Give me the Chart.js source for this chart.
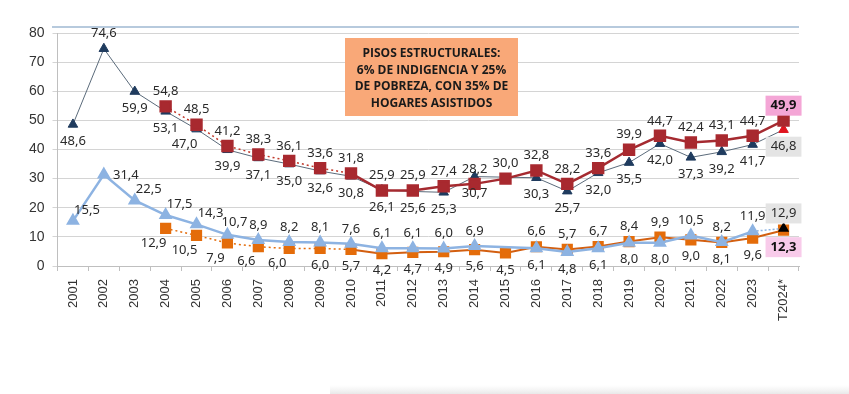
<!DOCTYPE html>
<html>
<head>
<meta charset="utf-8">
<script src="https://cdn.jsdelivr.net/npm/chart.js@4/dist/chart.umd.min.js"></script>
<style>
  html, body { margin: 0; padding: 0; background: #fff; }
  #wrap { width: 849px; height: 394px; position: relative; }
</style>
</head>
<body>
<div id="wrap"><canvas id="chart" width="849" height="394"></canvas></div>
<script>
// ---- data ----
const years = ["2001","2002","2003","2004","2005","2006","2007","2008","2009","2010","2011","2012",
               "2013","2014","2015","2016","2017","2018","2019","2020","2021","2022","2023","T2024*"];
const yTicks = [0, 10, 20, 30, 40, 50, 60, 70, 80];

const navyVals   = [48.6, 74.6, 59.9, 53.1, 47.0, 39.9, 37.1, 35.0, 32.6, 30.8, 26.1, 25.6,
                    25.3, 30.7, null, 30.3, 25.7, 32.0, 35.5, 42.0, 37.3, 39.2, 41.7, 46.8];
const redVals    = [null, null, null, 54.8, 48.5, 41.2, 38.3, 36.1, 33.6, 31.8, 25.9, 25.9,
                    27.4, 28.2, 30.0, 32.8, 28.2, 33.6, 39.9, 44.7, 42.4, 43.1, 44.7, 49.9];
const blueVals   = [15.5, 31.4, 22.5, 17.5, 14.3, 10.7, 8.9, 8.2, 8.1, 7.6, 6.1, 6.1,
                    6.0, 6.9, null, 6.1, 4.8, 6.1, 8.0, 8.0, 10.5, 8.2, 11.9, 12.9];
const orangeVals = [null, null, null, 12.9, 10.5, 7.9, 6.6, 6.0, 6.0, 5.7, 4.2, 4.7,
                    4.9, 5.6, 4.5, 6.6, 5.7, 6.7, 8.4, 9.9, 9.0, 8.1, 9.6, 12.3];

const boxTitle = ["PISOS ESTRUCTURALES:", "6% DE INDIGENCIA Y 25%", "DE POBREZA, CON 35% DE", "HOGARES ASISTIDOS"];

// label placement per point: a above, b below, r right, ar above-right, bl below-left
const navyPos   = ["b","a","b","b","bl","b","b","b","b","b","b","b","b","b","b","b","b","b","b","b","b","b","b","b"];
const redPos    = years.map(() => "a");
const bluePos   = ["ar","r","ar","ar","ar","as","a","a","a","a","a","a","a","a","a","b","b","b","b","b","a","a","a","a"];
const orangePos = ["b","b","b","bl","bl","bl","bl","bl","b","b","b","b","b","b","b","a","a","a","a","a","b","b","b","b"];

const LAST = years.length - 1;
const fmt = v => v.toFixed(1).replace(".", ",");

const labelPlugin = {
  id: "valueLabels",
  afterDatasetsDraw(chart) {
    const ctx = chart.ctx;
    const offs = { a: [0, -15], as: [7, -13], b: [0, 17], r: [22, 1], ar: [14, -11], bl: [-12, 15] };
    chart.data.datasets.forEach((ds, di) => {
      const meta = chart.getDatasetMeta(di);
      meta.data.forEach((pt, i) => {
        const v = ds.data[i];
        if (v == null) return;
        const o = offs[ds.labelPos[i]];
        const x = pt.x + o[0], y = pt.y + o[1];
        const box = i === LAST ? ds.lastBox : null;
        ctx.save();
        ctx.font = (box && box.bold ? "bold " : "") + "13px 'Noto Sans', sans-serif";
        ctx.textAlign = "center";
        ctx.textBaseline = "middle";
        const txt = fmt(v);
        if (box) {
          const w = ctx.measureText(txt).width + 10;
          ctx.fillStyle = box.fill;
          ctx.fillRect(x - w / 2, y - 10, w, 20);
        }
        ctx.fillStyle = box && box.bold ? "#111" : "#2a2a2a";
        ctx.fillText(txt, x, y);
        ctx.restore();
      });
    });
  }
};

const decoPlugin = {
  id: "deco",
  beforeDraw(chart) {
    const ctx = chart.ctx;
    ctx.save();
    ctx.fillStyle = "#fff";
    ctx.fillRect(0, 0, chart.width, chart.height);
    ctx.strokeStyle = "#B7CADD";
    ctx.lineWidth = 2;
    ctx.beginPath();
    ctx.moveTo(52, 27);
    ctx.lineTo(chart.chartArea.right, 27);
    ctx.stroke();
    const g = ctx.createLinearGradient(0, 385, 0, 394);
    g.addColorStop(0, "rgba(240,240,240,0)");
    g.addColorStop(1, "rgba(232,232,232,1)");
    ctx.fillStyle = g;
    ctx.fillRect(330, 385, chart.width - 330, 9);
    ctx.restore();
  },
  afterDraw(chart) {
    const ctx = chart.ctx;
    const x0 = 345, y0 = 38, w = 173, h = 78;
    ctx.save();
    ctx.fillStyle = "#F9A878";
    ctx.fillRect(x0, y0, w, h);
    ctx.fillStyle = "#1a1a1a";
    ctx.font = "bold 12px 'Open Sans', sans-serif";
    ctx.textAlign = "center";
    ctx.textBaseline = "middle";
    boxTitle.forEach((line, i) => ctx.fillText(line, x0 + w / 2, y0 + 16 + i * 16.5));
    ctx.restore();
  }
};

new Chart(document.getElementById("chart"), {
  type: "line",
  data: {
    labels: years,
    datasets: [
      {
        label: "navy",
        data: navyVals,
        labelPos: navyPos,
        lastBox: { fill: "#E4E4E4", bold: false },
        borderColor: "#5B6B7B",
        borderWidth: 1,
        pointStyle: "triangle",
        pointRadius: 5.5,
        pointBackgroundColor: years.map((_, i) => i === LAST ? "#E0141E" : "#1F3B5E"),
        pointBorderColor: years.map((_, i) => i === LAST ? "#E0141E" : "#1F3B5E"),
        spanGaps: true,
        order: 2
      },
      {
        label: "red",
        data: redVals,
        labelPos: redPos,
        lastBox: { fill: "#F4A6D6", bold: true },
        borderColor: "#A52A30",
        borderWidth: 2.5,
        segment: {
          borderDash: c => (c.p1DataIndex <= 9 ? [2, 3] : undefined),
          borderWidth: c => (c.p1DataIndex <= 9 ? 1.5 : 2.5),
          borderColor: c => (c.p1DataIndex <= 9 ? "#C0392B" : "#A52A30")
        },
        pointStyle: "rect",
        pointRadius: 7,
        pointBackgroundColor: "#A8292F",
        pointBorderColor: "#A8292F",
        order: 1
      },
      {
        label: "blue",
        data: blueVals,
        labelPos: bluePos,
        lastBox: { fill: "#E4E4E4", bold: false },
        borderColor: "#8DB3E2",
        borderWidth: 2.5,
        segment: {
          borderDash: c => (c.p1DataIndex === LAST ? [2, 2] : undefined),
          borderWidth: c => (c.p1DataIndex === LAST ? 1.5 : 2.5)
        },
        pointStyle: "triangle",
        pointRadius: years.map((_, i) => i === LAST ? 4 : 5.5),
        pointBackgroundColor: years.map((_, i) => i === LAST ? "#000" : "#8DB3E2"),
        pointBorderColor: years.map((_, i) => i === LAST ? "#000" : "#8DB3E2"),
        spanGaps: true,
        order: 3
      },
      {
        label: "orange",
        data: orangeVals,
        labelPos: orangePos,
        lastBox: { fill: "#F8CBEA", bold: true },
        borderColor: "#D35F10",
        borderWidth: 2,
        segment: {
          borderDash: c => (c.p1DataIndex <= 9 ? [2, 3] : undefined),
          borderWidth: c => (c.p1DataIndex <= 9 ? 1.5 : 2),
          borderColor: c => (c.p1DataIndex <= 9 ? "#E46C0A" : "#D35F10")
        },
        pointStyle: "rect",
        pointRadius: 6.5,
        pointBackgroundColor: "#E46C0A",
        pointBorderColor: "#E46C0A",
        order: 4
      }
    ]
  },
  options: {
    responsive: false,
    animation: false,
    clip: false,
    layout: { padding: { top: 33, right: 50, left: 0, bottom: 0 } },
    plugins: { legend: { display: false }, tooltip: { enabled: false } },
    scales: {
      x: {
        offset: true,
        afterFit: s => { s.height = 128; },
        grid: { offset: true, drawOnChartArea: false, color: "#BFBFBF", tickLength: 5 },
        border: { color: "#BFBFBF" },
        ticks: {
          minRotation: 90, maxRotation: 90, autoSkip: false, padding: 8,
          color: "#333", font: { family: "'Liberation Sans', Arial, sans-serif", size: 13 }
        }
      },
      y: {
        min: yTicks[0], max: yTicks[yTicks.length - 1],
        afterFit: s => { s.width = 57.5; },
        afterBuildTicks: s => { s.ticks = yTicks.map(v => ({ value: v })); },
        grid: { color: "#D4D4D4", tickLength: 5 },
        border: { color: "#BFBFBF" },
        ticks: {
          padding: 8, color: "#333",
          font: { family: "'Liberation Sans', Arial, sans-serif", size: 14 }
        }
      }
    }
  },
  plugins: [decoPlugin, labelPlugin]
});
</script>
</body>
</html>
